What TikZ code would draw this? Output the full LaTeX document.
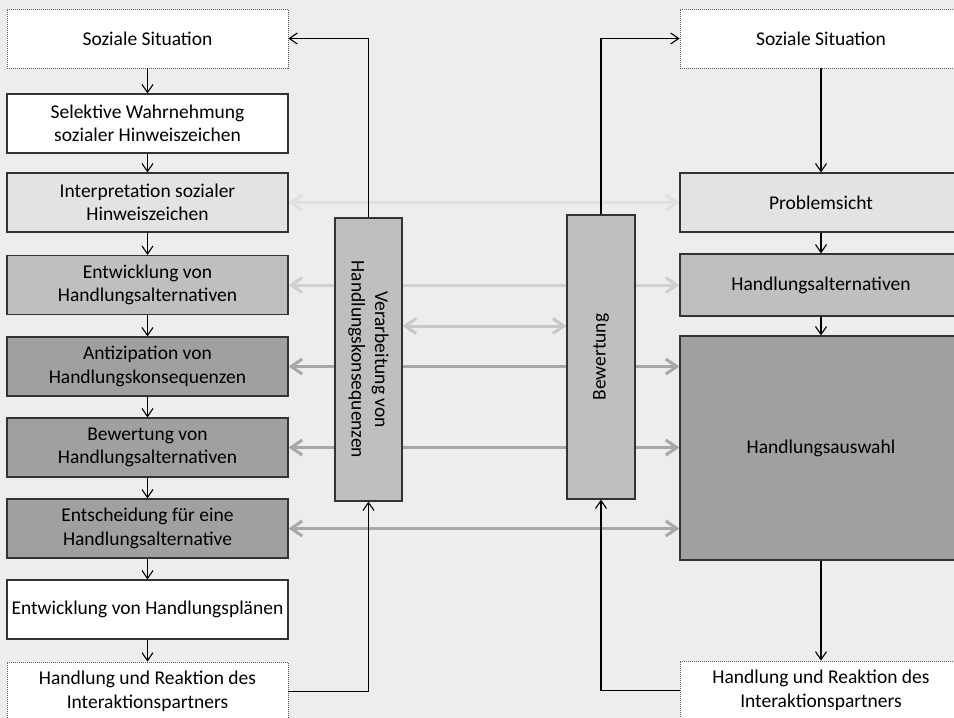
\documentclass[tikz,border=0pt]{standalone}
\usepackage{fontspec}
\setmainfont{Carlito}
\usetikzlibrary{arrows.meta,calc}
\pgfdeclarelayer{back}
\pgfdeclarelayer{mid}
\pgfsetlayers{back,mid,main}
\definecolor{bgc}{HTML}{EDEDED}
\definecolor{boxline}{HTML}{333333}
\definecolor{fillA}{HTML}{E3E3E3}
\definecolor{fillB}{HTML}{BFBFBF}
\definecolor{fillC}{HTML}{A0A0A0}
\definecolor{arrA}{HTML}{E0E0E0}
\definecolor{arrB}{HTML}{D0D0D0}
\definecolor{arrC}{HTML}{C8C8C8}
\definecolor{arrD}{HTML}{A8A8A8}
\begin{document}
\begin{tikzpicture}[x=1pt,y=-1pt,
  box/.style={draw=boxline, line width=1.1pt, minimum width=281pt, minimum height=59pt,
    align=center, inner sep=0pt, text=black, font=\fontsize{19.5}{23.5}\selectfont},
  dotbox/.style={box, draw=boxline!80, line width=0.8pt, dash pattern=on 1pt off 1pt, fill=white},
  rbox/.style={box, minimum width=282pt},
  midbox/.style={draw=boxline, line width=1.1pt, fill=fillB, inner sep=0pt},
  vtext/.style={align=center, inner sep=0pt, font=\fontsize{19.5}{23.5}\selectfont},
  conn/.style={draw=black, line width=1.1pt, -{Straight Barb[length=8pt,width=11pt,line width=1.1pt]}},
  garrow/.style={line width=3pt, {Straight Barb[length=11pt,width=15pt,line width=3pt]}-{Straight Barb[length=11pt,width=15pt,line width=3pt]}}
]
\useasboundingbox (0,0) rectangle (954,718);
\begin{pgfonlayer}{back}
\fill[bgc] (0,0) rectangle (954,718);
\end{pgfonlayer}

% left column
\node[dotbox] (L1) at (147.5,38.5) {Soziale Situation};
\node[box, fill=white] (L2) at (147.5,123.5) {Selektive Wahrnehmung\\sozialer Hinweiszeichen};
\node[box, fill=fillA] (L3) at (147.5,202.5) {Interpretation sozialer\\Hinweiszeichen};
\node[box, fill=fillB] (L4) at (147.5,285) {Entwicklung von\\Handlungsalternativen};
\node[box, fill=fillC] (L5) at (147.5,366.5) {Antizipation von\\Handlungskonsequenzen};
\node[box, fill=fillC] (L6) at (147.5,447.5) {Bewertung von\\Handlungsalternativen};
\node[box, fill=fillC] (L7) at (147.5,528.5) {Entscheidung für eine\\Handlungsalternative};
\node[box, fill=white] (L8) at (147.5,609.5) {Entwicklung von Handlungsplänen};
\node[dotbox] (L9) at (147.5,691.5) {Handlung und Reaktion des\\Interaktionspartners};

% right column
\node[dotbox, minimum width=282pt] (RS) at (821,38.5) {Soziale Situation};
\node[rbox, fill=fillA] (RP) at (821,202.5) {Problemsicht};
\node[rbox, fill=fillB, minimum height=62pt] (RA) at (821,285) {Handlungsalternativen};
\node[rbox, fill=fillC, minimum height=224pt] (RW) at (821,448) {Handlungsauswahl};
\node[dotbox, minimum width=282pt] (RH) at (821,690.5) {Handlung und Reaktion des\\Interaktionspartners};

% middle boxes
\node[midbox, minimum width=67pt, minimum height=283pt] (V) at (368.5,359.5) {};
\node[vtext, rotate=-90] (Vt) at (V.center) {Verarbeitung von\\Handlungskonsequenzen};
\node[midbox, minimum width=68pt, minimum height=284pt] (B) at (601,357) {};
\node[vtext, rotate=90] (Bt) at (B.center) {Bewertung};

% gray double arrows (behind)
\coordinate (m3) at (0,326);
\begin{pgfonlayer}{mid}
\draw[garrow, draw=arrA] (L3.east) -- (RP.west);
\draw[garrow, draw=arrB] (L4.east) -- (RA.west);
\draw[garrow, draw=arrC] (V.east |- m3) -- (B.west |- m3);
\draw[garrow, draw=arrD] (L5.east) -- (RW.west |- L5.east);
\draw[garrow, draw=arrD] (L6.east) -- (RW.west |- L6.east);
\draw[garrow, draw=arrD] (L7.east) -- (RW.west |- L7.east);
\end{pgfonlayer}

% left chain
\foreach \a/\b in {L1/L2,L2/L3,L3/L4,L4/L5,L5/L6,L6/L7,L7/L8,L8/L9}
  \draw[conn] (\a.south) -- (\b.north);
% right chain
\foreach \a/\b in {RS/RP,RP/RA,RA/RW,RW/RH}
  \draw[conn] (\a.south) -- (\b.north);

% feedback loops
\draw[conn] (V.north) |- (L1.east);
\draw[conn] (L9.east) -| (V.south);
\draw[conn] (B.north) |- (RS.west);
\draw[conn] (RH.west) -| (B.south);
\end{tikzpicture}
\end{document}
